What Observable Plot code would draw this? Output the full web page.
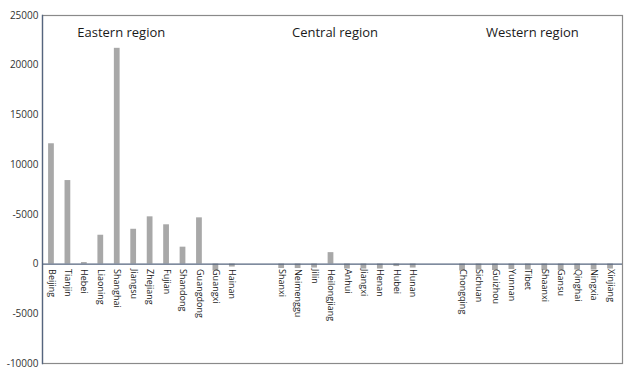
<!DOCTYPE html>
<html>
<head>
<meta charset="utf-8">
<script src="https://cdn.jsdelivr.net/npm/d3@7"></script>
<script src="https://cdn.jsdelivr.net/npm/@observablehq/plot@0.6"></script>
<style>
  html, body { margin: 0; padding: 0; background: #fff; }
  #chart svg { display: block; }
</style>
</head>
<body>
<div id="chart"></div>
<script>
const easternProvinces = ["Beijing","Tianjin","Hebei","Liaoning","Shanghai","Jiangsu","Zhejiang","Fujian","Shandong","Guangdong","Guangxi","Hainan"];
const easternValues = [12100, 8400, 150, 2900, 21700, 3500, 4750, 3950, 1700, 4650, -700, -300];

const centralProvinces = ["Shanxi","Neimenggu","Jilin","Heilongjiang","Anhui","Jiangxi","Henan","Hubei","Hunan"];
const centralValues = [-450, -450, -400, 1150, -500, -500, -500, -250, -400];

const westernProvinces = ["Chongqing","Sichuan","Guizhou","Yunnan","Tibet","Shaanxi","Gansu","Qinghai","Ningxia","Xinjiang"];
const westernValues = [-700, -600, -650, -550, -600, -650, -650, -600, -600, -500];

const regionNames = ["Eastern region", "Central region", "Western region"];
const regionAnchors = ["Shanghai", "Heilongjiang", "Tibet"];

const yTicks = [-10000, -5000, 0, 5000, 10000, 15000, 20000, 25000];
const yTickLabels = ["-10000", "-5000", "0", "-5000", "10000", "15000", "20000", "25000"];

const data = [
  ...easternProvinces.map((p, i) => ({province: p, value: easternValues[i]})),
  ...centralProvinces.map((p, i) => ({province: p, value: centralValues[i]})),
  ...westernProvinces.map((p, i) => ({province: p, value: westernValues[i]}))
];
const xDomain = [...easternProvinces, "gap1", "gap2", ...centralProvinces, "gap3", "gap4", ...westernProvinces];
const regions = regionNames.map((r, i) => ({name: r, anchor: regionAnchors[i]}));

const font = "'Open Sans', 'Noto Sans', sans-serif";

const chart = Plot.plot({
  width: 630,
  height: 374,
  marginLeft: 42,
  marginRight: 8,
  marginTop: 15,
  marginBottom: 11,
  style: {fontFamily: font, background: "#fff"},
  x: {domain: xDomain, padding: 0.65, align: 0.5, round: false, range: [37.4, 623.6], axis: null},
  y: {domain: [-10000, 25000], ticks: yTicks, tickSize: 0, tickPadding: 4, label: null,
      tickFormat: d => yTickLabels[yTicks.indexOf(d)]},
  marks: [
    Plot.axisY({ticks: yTicks, tickSize: 0, tickPadding: 4, label: null, fontSize: 10, fill: "#333",
      tickFormat: d => yTickLabels[yTicks.indexOf(d)]}),
    Plot.barY(data, {x: "province", y: "value", fill: "#a8a8a8"}),
    Plot.frame({stroke: "#8a8a8a", strokeWidth: 1.2}),
    Plot.frame({anchor: "left", stroke: "#55657e", strokeWidth: 1.3}),
    Plot.ruleY([0], {stroke: "#55657e", strokeWidth: 1.3}),
    Plot.text(data, {x: "province", y: 0, text: "province", rotate: 90, textAnchor: "start",
      dy: 5, fontSize: 9, fill: "#1a1a1a"}),
    Plot.text(regions, {x: "anchor", text: "name", frameAnchor: "top", dy: 12, dx: 4,
      fontSize: 13, fill: "#1a1a1a", textAnchor: "middle"})
  ]
});
document.getElementById("chart").appendChild(chart);
</script>
</body>
</html>
